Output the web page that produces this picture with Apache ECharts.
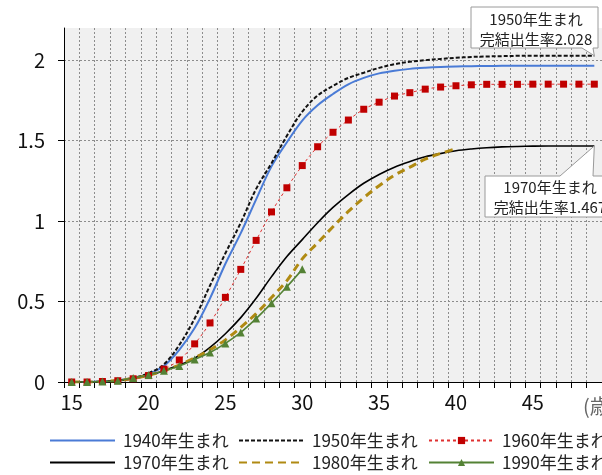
<!DOCTYPE html>
<html>
<head>
<meta charset="utf-8">
<script src="https://cdn.jsdelivr.net/npm/echarts@6/dist/echarts.min.js"></script>
<style>
html,body{margin:0;padding:0;background:#fff;}
#c{width:602px;height:475px;}
</style>
</head>
<body>
<div id="c"></div>
<script>
const ages = ['15','16','17','18','19','20','21','22','23','24','25','26','27','28','29','30','31','32','33','34','35','36','37','38','39','40','41','42','43','44','45','46','47','48','49'];
const yTicks = [0, 0.5, 1, 1.5, 2];
const s1940 = [0,0,0.003,0.01,0.025,0.05,0.1,0.2,0.335,0.52,0.735,0.925,1.135,1.34,1.49,1.625,1.72,1.79,1.85,1.89,1.918,1.935,1.946,1.953,1.958,1.961,1.963,1.964,1.965,1.966,1.966,1.966,1.966,1.966,1.966];
const s1950 = [0,0,0.003,0.01,0.025,0.055,0.11,0.23,0.395,0.6,0.8,0.99,1.2,1.36,1.53,1.68,1.78,1.84,1.89,1.922,1.952,1.975,1.99,2.0,2.008,2.015,2.02,2.023,2.025,2.027,2.028,2.028,2.028,2.028,2.028];
const s1960 = [0,0,0.003,0.008,0.02,0.04,0.08,0.137,0.237,0.367,0.526,0.70,0.88,1.057,1.207,1.345,1.462,1.552,1.628,1.695,1.739,1.777,1.798,1.82,1.833,1.841,1.847,1.85,1.85,1.85,1.851,1.851,1.851,1.851,1.851];
const s1970 = [0,0,0.002,0.007,0.02,0.04,0.07,0.105,0.148,0.215,0.3,0.4,0.52,0.655,0.78,0.885,0.99,1.085,1.165,1.235,1.29,1.335,1.37,1.4,1.42,1.437,1.448,1.456,1.461,1.464,1.466,1.467,1.467,1.467,1.467];
const s1980 = [0,0,0.003,0.009,0.022,0.042,0.07,0.105,0.15,0.2,0.262,0.34,0.425,0.525,0.63,0.765,0.865,0.965,1.06,1.145,1.22,1.285,1.335,1.385,1.42,1.45];
const s1990 = [0,0,0.003,0.008,0.025,0.044,0.07,0.1,0.14,0.183,0.24,0.308,0.394,0.49,0.592,0.70];
const names = ['1940年生まれ','1950年生まれ','1960年生まれ','1970年生まれ','1980年生まれ','1990年生まれ'];
const note1950 = ['1950年生まれ','完結出生率2.028'];
const note1970 = ['1970年生まれ','完結出生率1.467'];

const FONT = '"Noto Sans CJK JP", "Noto Sans", sans-serif';
const chart = echarts.init(document.getElementById('c'), null, {renderer:'canvas'});

function legendAt(name, left, top, hideSymbol){
  const item = {name:name};
  if (hideSymbol) item.itemStyle = {color:'rgba(0,0,0,0)', borderColor:'rgba(0,0,0,0)', borderWidth:0, opacity:0};
  return {
    data:[item], left:left, top:top, padding:0,
    itemWidth:65, itemHeight:9,
    textStyle:{fontSize:17, fontFamily:FONT, color:'#222', padding:[0,0,0,3]},
    selectedMode:false
  };
}

const option = {
  animation:false,
  backgroundColor:'#fff',
  grid:{left:64, right:-2, top:28, bottom:93, show:true, backgroundColor:'#f0f0f0', borderWidth:0, containLabel:false},
  xAxis:{
    type:'category', data:ages, boundaryGap:true,
    axisLine:{lineStyle:{color:'#000', width:1}},
    axisTick:{show:true, interval:0, length:6, lineStyle:{color:'#000'}},
    axisLabel:{interval:4, fontSize:20, fontFamily:FONT, color:'#111', margin:10},
    splitLine:{show:true, interval:0, lineStyle:{color:'#8c8c8c', type:[2,2], width:1}}
  },
  yAxis:{
    type:'value', min:0, max:2.2,
    axisLine:{show:true, lineStyle:{color:'#000', width:1}},
    axisTick:{show:true, length:6, customValues:yTicks, lineStyle:{color:'#000'}},
    axisLabel:{customValues:yTicks, fontSize:20, fontFamily:FONT, color:'#111', margin:19},
    splitLine:{show:true, showMinLine:false, lineStyle:{color:'#8c8c8c', type:[2,2], width:1}}
  },
  legend:[
    legendAt(names[0], 49, 432, true),
    legendAt(names[1], 238, 432, true),
    legendAt(names[2], 428, 432, false),
    legendAt(names[3], 49, 454, true),
    legendAt(names[4], 238, 454, true),
    legendAt(names[5], 428, 454, false)
  ],
  series:[
    {name:names[0], type:'line', data:s1940, smooth:0.35, symbol:'none',
     lineStyle:{color:'#4a7bd6', width:2}, itemStyle:{color:'#4a7bd6'}, z:3},
    {name:names[1], type:'line', data:s1950, smooth:0.35, symbol:'none',
     lineStyle:{color:'#111', width:2, type:[4,2]}, itemStyle:{color:'#111'}, z:3},
    {name:names[2], type:'line', data:s1960, smooth:0.35, symbol:'rect', symbolSize:7, showSymbol:true,
     lineStyle:{color:'#e03030', width:1, type:[3,3]}, itemStyle:{color:'#c00000'}, z:4},
    {name:names[3], type:'line', data:s1970, smooth:0.35, symbol:'none',
     lineStyle:{color:'#000', width:1.6}, itemStyle:{color:'#000'}, z:3},
    {name:names[4], type:'line', data:s1980, smooth:0.35, symbol:'none',
     lineStyle:{color:'#b08a12', width:3, type:[8,5]}, itemStyle:{color:'#b08a12'}, z:3},
    {name:names[5], type:'line', data:s1990, smooth:0.35, symbol:'triangle', symbolSize:8, showSymbol:true,
     lineStyle:{color:'#548235', width:1.6}, itemStyle:{color:'#548235'}, z:4}
  ]
};
chart.setOption(option);

const tip1 = chart.convertToPixel({seriesIndex:1}, [s1950.length-1, s1950[s1950.length-1]]);
const tip2 = chart.convertToPixel({seriesIndex:3}, [s1970.length-1, s1970[s1970.length-1]]);
const boxStyle = {fill:'#fff', stroke:'#9a9a9a', lineWidth:1};
const textFont = '15px ' + FONT;
chart.setOption({
  graphic:[
    {type:'polygon', z:100, silent:true,
     shape:{points:[[471,7],[598,7],[598,48],[593,48],tip1,[582,48],[471,48]]}, style:boxStyle},
    {type:'text', z:101, silent:true, style:{text:note1950[0], x:536, y:19, align:'center', verticalAlign:'middle', font:textFont, fill:'#222'}},
    {type:'text', z:101, silent:true, style:{text:note1950[1], x:536, y:39, align:'center', verticalAlign:'middle', font:textFont, fill:'#222'}},
    {type:'polygon', z:100, silent:true,
     shape:{points:[[485,217],[485,176],[560,176],tip2,[593,176],[612,176],[612,217]]}, style:boxStyle},
    {type:'text', z:101, silent:true, style:{text:note1970[0], x:550, y:187, align:'center', verticalAlign:'middle', font:textFont, fill:'#222'}},
    {type:'text', z:101, silent:true, style:{text:note1970[1], x:550, y:207, align:'center', verticalAlign:'middle', font:textFont, fill:'#222'}},
    {type:'text', z:101, silent:true, style:{text:'(歳)', x:583, y:406, align:'left', verticalAlign:'middle', font:'20px ' + FONT, fill:'#666'}}
  ]
});
</script>
</body>
</html>
